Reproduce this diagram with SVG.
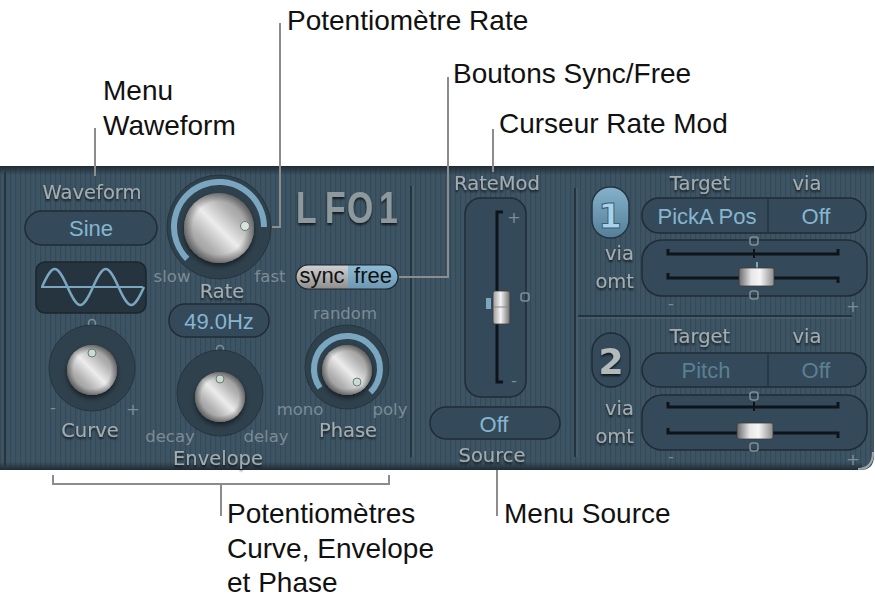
<svg xmlns="http://www.w3.org/2000/svg" width="875" height="601" viewBox="0 0 875 601">
<defs>
<style>
.co{font-family:"Liberation Sans",Arial,sans-serif;font-size:28px;fill:#111}
.lbl{font-family:"DejaVu Sans",sans-serif;font-size:19.5px;fill:#a3adb0;text-anchor:middle}
.lblr{font-family:"DejaVu Sans",sans-serif;font-size:19.5px;fill:#a3adb0;text-anchor:end}
.dim{font-family:"DejaVu Sans",sans-serif;font-size:16.5px;fill:#7b8c94;text-anchor:middle}
.val{font-family:"Liberation Sans",Arial,sans-serif;font-size:22px;fill:#86b6cf;text-anchor:middle}
.valdim{font-family:"Liberation Sans",Arial,sans-serif;font-size:22px;fill:#5b8094;text-anchor:middle}
.pill{fill:#34495a;stroke:#1f2c35;stroke-width:1.5}
.recess{fill:#2f414d;stroke:#26343e;stroke-width:1}
.line{stroke:#8c8c8c;stroke-width:2;fill:none}
.arc{stroke:#7aa6c0;stroke-width:6;fill:none}
.mk{fill:none;stroke:#7d8d94;stroke-width:1.6}
.trk{stroke:#0e1418;stroke-width:3;fill:none}
.sep{stroke:#25333c;stroke-width:2}
.sepl{stroke:#4f6675;stroke-width:1}
</style>
<pattern id="stripes" width="5" height="10" patternUnits="userSpaceOnUse">
<rect x="0" y="0" width="1.2" height="10" fill="#000" opacity="0.13"/>
</pattern>
<linearGradient id="metal" x1="1" y1="0" x2="0" y2="1">
<stop offset="0" stop-color="#767676"/>
<stop offset="0.3" stop-color="#b0b0b0"/>
<stop offset="0.5" stop-color="#ececec"/>
<stop offset="0.7" stop-color="#b0b0b0"/>
<stop offset="1" stop-color="#767676"/>
</linearGradient>
<radialGradient id="rim" cx="0.5" cy="0.5" r="0.5">
<stop offset="0.75" stop-color="#000" stop-opacity="0"/>
<stop offset="1" stop-color="#000" stop-opacity="0.35"/>
</radialGradient>
<linearGradient id="thumbV" x1="0" y1="0" x2="1" y2="0">
<stop offset="0" stop-color="#9a9a9a"/>
<stop offset="0.45" stop-color="#f4f4f4"/>
<stop offset="1" stop-color="#6d6d6d"/>
</linearGradient>
<linearGradient id="thumbH" x1="0" y1="0" x2="1" y2="0">
<stop offset="0" stop-color="#6a6a6a"/>
<stop offset="0.35" stop-color="#e6e6e6"/>
<stop offset="0.6" stop-color="#f6f6f6"/>
<stop offset="1" stop-color="#8a8a8a"/>
</linearGradient>
<linearGradient id="syncg" x1="0" y1="0" x2="0" y2="1">
<stop offset="0" stop-color="#d2d2d2"/>
<stop offset="1" stop-color="#8e8e8e"/>
</linearGradient>
<linearGradient id="freeg" x1="0" y1="0" x2="0" y2="1">
<stop offset="0" stop-color="#8fbcd6"/>
<stop offset="1" stop-color="#6c98b3"/>
</linearGradient>
<linearGradient id="blueBtn" x1="0" y1="0" x2="0" y2="1">
<stop offset="0" stop-color="#86b1cb"/>
<stop offset="1" stop-color="#557f99"/>
</linearGradient>
<linearGradient id="topband" x1="0" y1="0" x2="0" y2="1">
<stop offset="0" stop-color="#1f2b33"/>
<stop offset="1" stop-color="#1f2b33" stop-opacity="0"/>
</linearGradient>
<linearGradient id="botband" x1="0" y1="0" x2="0" y2="1">
<stop offset="0" stop-color="#1f2b33" stop-opacity="0"/>
<stop offset="1" stop-color="#1f2b33"/>
</linearGradient>
<filter id="sh" x="-10%" y="-30%" width="120%" height="170%">
<feDropShadow dx="0" dy="2" stdDeviation="1" flood-color="#000" flood-opacity="0.7"/>
</filter>
<filter id="ksh" x="-30%" y="-30%" width="160%" height="160%">
<feDropShadow dx="0" dy="3" stdDeviation="2.5" flood-color="#000" flood-opacity="0.55"/>
</filter>
</defs>

<g id="panel">
<path d="M0,166 H874 V456 Q874,470 860,470 H0 Z" fill="#3d5464"/>
<path d="M0,166 H874 V456 Q874,470 860,470 H0 Z" fill="url(#stripes)"/>
<rect x="0" y="166" width="874" height="9" fill="url(#topband)"/>
<rect x="0" y="462" width="862" height="8" fill="url(#botband)"/>
<path d="M873,452 Q873,469 858,469" stroke="#9aa7ad" stroke-width="2" fill="none"/>
<line x1="5" y1="172" x2="5" y2="466" stroke="#26343d" stroke-width="2"/>
<line class="sep" x1="411" y1="186" x2="411" y2="457"/>
<line class="sepl" x1="413" y1="186" x2="413" y2="457"/>
<line class="sep" x1="575" y1="188" x2="575" y2="457"/>
<line class="sepl" x1="577" y1="188" x2="577" y2="457"/>
<line class="sep" x1="578" y1="316" x2="852" y2="316"/>
<line class="sepl" x1="578" y1="318" x2="852" y2="318"/>
</g>

<g id="waveform-menu">
<text class="lbl" x="92" y="199" filter="url(#sh)">Waveform</text>
<rect class="pill" x="25" y="211" width="132" height="34" rx="17"/>
<text class="val" x="91" y="236">Sine</text>
<rect x="36" y="262" width="110" height="51" rx="9" fill="#25343e" stroke="#1b262d" stroke-width="1.5"/>
<line x1="41" y1="287" x2="143" y2="287" stroke="#7ba6bf" stroke-width="2"/>
<path d="M42,287 C52.8,263 56.7,263 67.5,287 C78.3,311 82.2,311 93,287 C103.8,263 107.7,263 118.5,287 C129.3,311 133.2,311 144,287" stroke="#7ba6bf" stroke-width="2.5" fill="none"/>
</g>

<g id="rate-knob">
<circle class="recess" cx="219" cy="227" r="52"/>
<path class="arc" d="M187.2,258.8 A45,45 0 1 1 264,227"/>
<circle cx="219" cy="228" r="35" fill="url(#metal)" filter="url(#ksh)"/>
<circle cx="219" cy="228" r="35" fill="url(#rim)"/>
<circle cx="245" cy="226" r="4.5" fill="#d7e4de" stroke="#6b7a76" stroke-width="1"/>
<text class="dim" x="172" y="282">slow</text>
<text class="dim" x="270" y="282">fast</text>
<text class="lbl" x="222" y="298" filter="url(#sh)">Rate</text>
<rect class="pill" x="169" y="304" width="100" height="33" rx="16"/>
<text class="val" x="219" y="329">49.0Hz</text>
</g>

<g id="lfo-title" filter="url(#sh)">
<text transform="scale(0.75,1)" x="394.7 433.3 462.7 505.3" y="223" font-family="'Liberation Sans',Arial,sans-serif" font-weight="bold" font-size="45" fill="#8d999c">LFO1</text>
</g>

<g id="sync-free">
<path d="M308,265 H348 V289 H308 A12,12 0 0 1 308,265 Z" fill="url(#syncg)"/>
<path d="M348,265 H386 A12,12 0 0 1 386,289 H348 Z" fill="url(#freeg)"/>
<rect x="296" y="265" width="102" height="24" rx="12" fill="none" stroke="#1c262d" stroke-width="1.2"/>
<text x="322" y="283" font-family="'Liberation Sans',Arial,sans-serif" font-size="22" fill="#111" text-anchor="middle">sync</text>
<text x="373" y="283" font-family="'Liberation Sans',Arial,sans-serif" font-size="22" fill="#111" text-anchor="middle">free</text>
</g>

<g id="curve-knob">
<circle class="mk" cx="92" cy="323" r="3.5"/>
<circle class="recess" cx="92" cy="368" r="43"/>
<circle cx="92" cy="370" r="25" fill="url(#metal)" filter="url(#ksh)"/>
<circle cx="92" cy="370" r="25" fill="url(#rim)"/>
<circle cx="92" cy="353" r="4" fill="#c9dcd4" stroke="#6b7a76" stroke-width="1"/>
<text class="dim" x="53" y="413" font-size="20">-</text>
<text class="dim" x="133" y="415" font-size="22">+</text>
<text class="lbl" x="90" y="437" filter="url(#sh)">Curve</text>
</g>

<g id="envelope-knob">
<circle class="mk" cx="220" cy="349" r="3.5"/>
<circle class="recess" cx="220" cy="393" r="43"/>
<circle cx="220" cy="397" r="25" fill="url(#metal)" filter="url(#ksh)"/>
<circle cx="220" cy="397" r="25" fill="url(#rim)"/>
<circle cx="220" cy="379" r="4" fill="#c9dcd4" stroke="#6b7a76" stroke-width="1"/>
<text class="dim" x="170" y="442">decay</text>
<text class="dim" x="266" y="442">delay</text>
<text class="lbl" x="218" y="465" filter="url(#sh)">Envelope</text>
</g>

<g id="phase-knob">
<text class="dim" x="345" y="319">random</text>
<circle class="recess" cx="347" cy="367" r="42"/>
<path class="arc" d="M320,387.9 A33,33 0 1 1 370.3,392.3"/>
<circle cx="347" cy="370" r="25" fill="url(#metal)" filter="url(#ksh)"/>
<circle cx="347" cy="370" r="25" fill="url(#rim)"/>
<circle cx="357" cy="382" r="4" fill="#c9dcd4" stroke="#6b7a76" stroke-width="1"/>
<text class="dim" x="300" y="415">mono</text>
<text class="dim" x="390" y="415">poly</text>
<text class="lbl" x="348" y="437" filter="url(#sh)">Phase</text>
</g>

<g id="ratemod-slider">
<text class="lbl" x="497" y="190" filter="url(#sh)">RateMod</text>
<rect class="pill" x="465" y="198" width="61" height="199" rx="16"/>
<path class="trk" d="M503,212 H497 V382 H503"/>
<text class="dim" x="514" y="223" font-size="18">+</text>
<text class="dim" x="514" y="386" font-size="18">-</text>
<rect x="486" y="298" width="5" height="11" fill="#7aa6c0"/>
<rect x="493" y="291" width="17" height="33" rx="2" fill="url(#thumbV)" stroke="#3a3a3a" stroke-width="0.8"/>
<line x1="494" y1="307" x2="509" y2="307" stroke="#888" stroke-width="1"/>
<rect class="mk" x="521" y="293" width="8" height="8" rx="2.5"/>
</g>

<g id="source-menu">
<rect class="pill" x="430" y="407" width="130" height="32" rx="16"/>
<text class="val" x="494" y="432">Off</text>
<text class="lbl" x="492" y="462" filter="url(#sh)">Source</text>
</g>

<g id="target-1">
<rect x="592" y="187" width="37" height="51" rx="18" fill="url(#blueBtn)" stroke="#243540" stroke-width="1.5"/>
<text x="610" y="228" font-family="'DejaVu Sans',sans-serif" font-weight="bold" font-size="34" fill="#a9d3ea" stroke="#3a5f74" stroke-width="1" text-anchor="middle">1</text>
<text class="lbl" x="700" y="190" filter="url(#sh)">Target</text>
<text class="lbl" x="807" y="190" filter="url(#sh)">via</text>
<rect class="pill" x="642" y="198" width="224" height="35" rx="17"/>
<line x1="768" y1="199" x2="768" y2="232" stroke="#26343e" stroke-width="1.5"/>
<text class="val" x="707" y="224">PickA Pos</text>
<text class="val" x="816" y="224">Off</text>
<text class="lblr" x="634" y="260" filter="url(#sh)">via</text>
<text class="lblr" x="634" y="288" filter="url(#sh)">omt</text>
<rect class="pill" x="642" y="240" width="225" height="56" rx="20"/>
<path class="trk" d="M668,249 V254 H838 V249"/>
<line x1="754" y1="249" x2="754" y2="258" stroke="#0e1418" stroke-width="2"/>
<rect class="mk" x="750" y="237" width="8" height="8" rx="2.5"/>
<path class="trk" d="M668,273 V278 H838 V283"/>
<line x1="757" y1="262" x2="757" y2="268" stroke="#7aa6c0" stroke-width="2"/>
<rect x="739" y="268" width="35" height="18" rx="2" fill="url(#thumbH)" stroke="#3a3a3a" stroke-width="0.8"/>
<rect class="mk" x="750" y="291" width="8" height="8" rx="2.5"/>
<text class="dim" x="671" y="309">-</text>
<text class="dim" x="853" y="312" font-size="20">+</text>
</g>

<g id="target-2">
<rect class="pill" x="592" y="333" width="38" height="54" rx="19"/>
<text x="611" y="374" font-family="'DejaVu Sans',sans-serif" font-weight="bold" font-size="36" fill="#b2babc" text-anchor="middle" filter="url(#sh)">2</text>
<text class="lbl" x="700" y="343" filter="url(#sh)">Target</text>
<text class="lbl" x="807" y="343" filter="url(#sh)">via</text>
<rect class="pill" x="642" y="353" width="224" height="34" rx="17"/>
<line x1="768" y1="354" x2="768" y2="386" stroke="#26343e" stroke-width="1.5"/>
<text class="valdim" x="706" y="378">Pitch</text>
<text class="valdim" x="816" y="378">Off</text>
<text class="lblr" x="634" y="415" filter="url(#sh)">via</text>
<text class="lblr" x="634" y="443" filter="url(#sh)">omt</text>
<rect class="pill" x="642" y="395" width="225" height="55" rx="20"/>
<path class="trk" d="M668,402 V407 H838 V402"/>
<line x1="754" y1="402" x2="754" y2="411" stroke="#0e1418" stroke-width="2"/>
<rect class="mk" x="750" y="392" width="8" height="8" rx="2.5"/>
<path class="trk" d="M668,428 V433 H838 V438"/>
<rect x="737" y="423" width="36" height="16" rx="2" fill="url(#thumbH)" stroke="#3a3a3a" stroke-width="0.8"/>
<rect class="mk" x="750" y="443" width="8" height="8" rx="2.5"/>
<text class="dim" x="671" y="462">-</text>
<text class="dim" x="853" y="465" font-size="20">+</text>
</g>

<g id="connectors">
<line class="line" x1="95" y1="128" x2="95" y2="176"/>
<polyline class="line" points="280,23 280,227 272,227"/>
<polyline class="line" points="448,77 448,277 399,277"/>
<line class="line" x1="493" y1="129" x2="493" y2="172"/>
<path class="line" d="M53,475 V484 H389 V475 M221,484 V516"/>
<line class="line" x1="497" y1="470" x2="497" y2="516"/>
</g>

<g id="callout-labels">
<text class="co" x="103" y="100">Menu</text>
<text class="co" x="103" y="135">Waweform</text>
<text class="co" x="287" y="30">Potentiomètre Rate</text>
<text class="co" x="453" y="83">Boutons Sync/Free</text>
<text class="co" x="499" y="133">Curseur Rate Mod</text>
<text class="co" x="227" y="523">Potentiomètres</text>
<text class="co" x="227" y="558">Curve, Envelope</text>
<text class="co" x="227" y="592">et Phase</text>
<text class="co" x="504" y="523">Menu Source</text>
</g>
</svg>
